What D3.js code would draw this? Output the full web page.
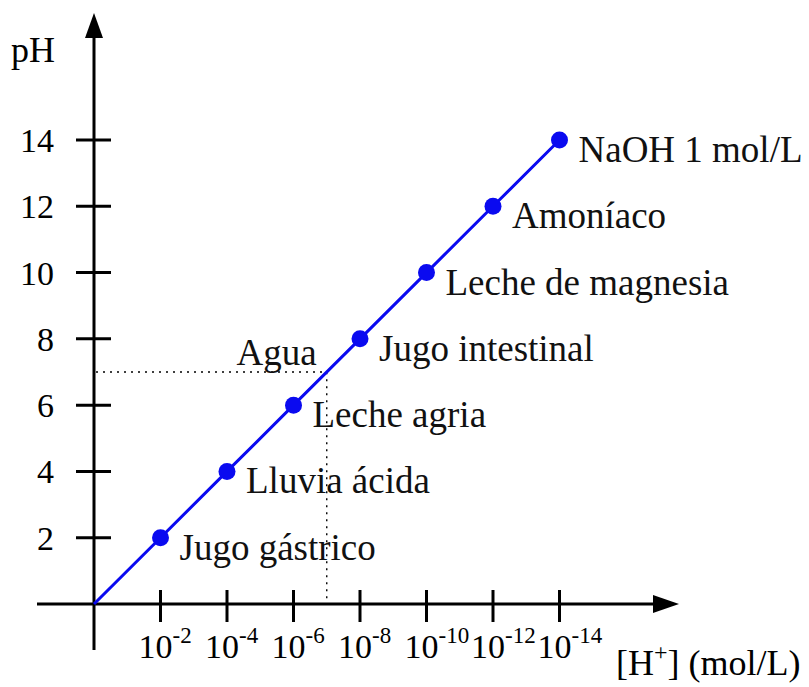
<!DOCTYPE html>
<html>
<head>
<meta charset="utf-8">
<script src="https://cdn.jsdelivr.net/npm/d3@7"></script>
<style>
  html, body { margin: 0; padding: 0; background: #fff; }
  svg { display: block; font-family: "Liberation Serif", "Times New Roman", serif; }
</style>
</head>
<body>
<svg id="chart" width="809" height="687"></svg>
<script>
// pH of common substances; x axis is [H+] = 10^-pH so points sit on a diagonal
const phValues = [2, 4, 6, 8, 10, 12, 14];
const substances = ["Jugo gástrico", "Lluvia ácida", "Leche agria", "Jugo intestinal",
                    "Leche de magnesia", "Amoníaco", "NaOH 1 mol/L"];
const yTicks = [2, 4, 6, 8, 10, 12, 14];
const xTickExponents = [2, 4, 6, 8, 10, 12, 14];
const waterPH = 7;
const waterLabel = "Agua";

const svg = d3.select('#chart');
const blue = '#0a0af0';

const x = d3.scaleLinear().domain([0, 14]).range([94, 559.5]);
const y = d3.scaleLinear().domain([0, 14]).range([604, 140]);

const x0 = x(0), y0 = y(0);

// dotted guide for water
svg.append('path')
    .attr('d', `M ${x0 + 2} ${y(waterPH)} L ${x(waterPH)} ${y(waterPH)} L ${x(waterPH)} ${y0 - 2}`)
    .style('fill', 'none')
    .style('stroke', '#000')
    .style('stroke-width', 1.4)
    .style('stroke-dasharray', '2,5');

// axes
svg.append('line')
    .attr('x1', 37).attr('y1', y0).attr('x2', 656).attr('y2', y0)
    .style('stroke', '#000').style('stroke-width', 3);
svg.append('line')
    .attr('x1', x0).attr('y1', 650).attr('x2', x0).attr('y2', 35)
    .style('stroke', '#000').style('stroke-width', 3);

// arrow heads
svg.append('path')
    .attr('d', `M ${x0} 13 L ${x0 + 9} 38 L ${x0 - 9} 38 Z`)
    .style('fill', '#000');
svg.append('path')
    .attr('d', `M 679 ${y0} L 653 ${y0 - 9} L 653 ${y0 + 9} Z`)
    .style('fill', '#000');

// y ticks (cross the axis)
svg.selectAll('line.ytick')
    .data(yTicks)
  .enter().append('line')
    .attr('class', 'ytick')
    .attr('x1', x0 - 18).attr('x2', x0 + 17)
    .attr('y1', d => y(d)).attr('y2', d => y(d))
    .style('stroke', '#000').style('stroke-width', 3);

svg.selectAll('text.ylabel')
    .data(yTicks)
  .enter().append('text')
    .attr('class', 'ylabel')
    .attr('x', 54)
    .attr('y', d => y(d) + 12)
    .attr('text-anchor', 'end')
    .style('font-size', '34px')
    .text(d => d);

// x ticks
svg.selectAll('line.xtick')
    .data(xTickExponents)
  .enter().append('line')
    .attr('class', 'xtick')
    .attr('x1', d => x(d)).attr('x2', d => x(d))
    .attr('y1', y0 - 14).attr('y2', y0 + 18)
    .style('stroke', '#000').style('stroke-width', 3);

const xl = svg.selectAll('text.xlabel')
    .data(xTickExponents)
  .enter().append('text')
    .attr('class', 'xlabel')
    .attr('x', d => x(d) - 22)
    .attr('y', 658)
    .style('font-size', '34px');
xl.append('tspan').text('10');
xl.append('tspan')
    .attr('dy', -15)
    .style('font-size', '23px')
    .text(d => '-' + d);

// axis titles
svg.append('text')
    .attr('x', 11).attr('y', 62)
    .style('font-size', '36px')
    .text('pH');

const xt = svg.append('text')
    .attr('x', 616).attr('y', 675)
    .style('font-size', '36px');
xt.append('tspan').text('[H');
xt.append('tspan').attr('dy', -15).style('font-size', '24px').text('+');
xt.append('tspan').attr('dy', 15).text('] (mol/L)');

// data line from origin through the points
const line = d3.line().x(d => x(d)).y(d => y(d));
svg.append('path')
    .datum([0].concat(phValues))
    .attr('d', line)
    .style('fill', 'none')
    .style('stroke', blue)
    .style('stroke-width', 3);

svg.selectAll('circle.pt')
    .data(phValues)
  .enter().append('circle')
    .attr('class', 'pt')
    .attr('cx', d => x(d))
    .attr('cy', d => y(d))
    .attr('r', 8.5)
    .style('fill', blue);

svg.selectAll('text.name')
    .data(phValues)
  .enter().append('text')
    .attr('class', 'name')
    .attr('x', d => x(d) + 19)
    .attr('y', d => y(d) + 22)
    .style('font-size', '37px')
    .style('fill', '#111')
    .text((d, i) => substances[i]);

svg.append('text')
    .attr('x', x(waterPH) - 10)
    .attr('y', y(waterPH) - 7)
    .attr('text-anchor', 'end')
    .style('font-size', '37px')
    .style('fill', '#111')
    .text(waterLabel);
</script>
</body>
</html>
